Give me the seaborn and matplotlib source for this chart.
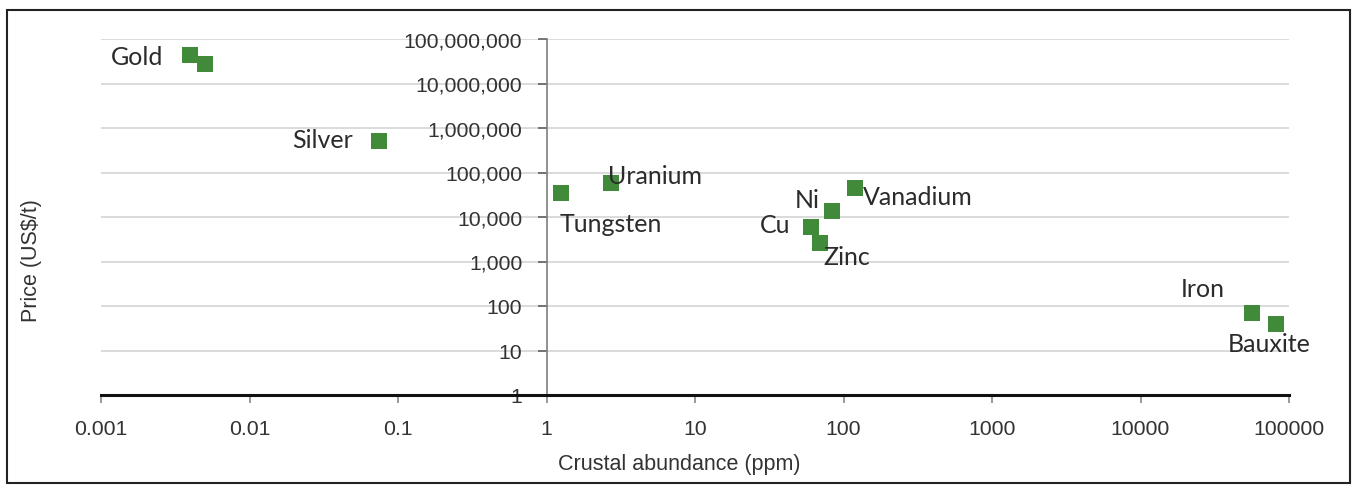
import matplotlib
matplotlib.use('Agg')
import matplotlib.pyplot as plt
import matplotlib.ticker as mticker
from matplotlib.patches import Rectangle
import pandas as pd
import seaborn as sns

# Values
metals = ['Gold', '', 'Silver', 'Tungsten', 'Uranium', 'Vanadium', 'Ni', 'Cu', 'Zinc', 'Iron', 'Bauxite']
abundance_ppm = [0.004, 0.005, 0.075, 1.25, 2.7, 120, 84, 60, 70, 56300, 82300]
price_usd_t = [43000000, 27000000, 510000, 34000, 58000, 46000, 13300, 6000, 2670, 70, 40]

x_ticks = [0.001, 0.01, 0.1, 1, 10, 100, 1000, 10000, 100000]
x_tick_labels = ['0.001', '0.01', '0.1', '1', '10', '100', '1000', '10000', '100000']
y_ticks = [1, 10, 100, 1000, 10000, 100000, 1000000, 10000000, 100000000]

# label placement: (dx px, dy px, ha)
label_pos = {
    'Gold': (-27, -9, 'right'),
    'Silver': (-27, -6, 'right'),
    'Tungsten': (-1, -38, 'left'),
    'Uranium': (-3, 0, 'left'),
    'Vanadium': (8, -16, 'left'),
    'Ni': (-13, 4, 'right'),
    'Cu': (-20, -5, 'right'),
    'Zinc': (3, -21, 'left'),
    'Iron': (-27, 17, 'right'),
    'Bauxite': (-49, -27, 'left'),
}

df = pd.DataFrame({'Metal': metals, 'Abundance': abundance_ppm, 'Price': price_usd_t})

sns.set_style('white')
plt.rcParams['font.family'] = ['Liberation Sans', 'DejaVu Sans']

fig = plt.figure(figsize=(13.56, 4.89), dpi=100)
ax = fig.add_axes([101 / 1356, 1 - 396 / 489, 1188 / 1356, 356 / 489])

sns.scatterplot(data=df, x='Abundance', y='Price', marker='s', s=117,
                color='#418a3a', linewidth=0, ax=ax, zorder=3, clip_on=False)

ax.set_xscale('log')
ax.set_yscale('log')
ax.set_xlim(0.001, 100000)
ax.set_ylim(1, 100000000)

ax.set_xticks(x_ticks)
ax.set_xticklabels(x_tick_labels)
ax.set_yticks(y_ticks)
ax.yaxis.set_major_formatter(mticker.FuncFormatter(lambda v, p: f'{int(round(v)):,}'))
ax.minorticks_off()

ax.grid(axis='y', color='#d4d4d4', linewidth=1.2)
ax.grid(axis='x', visible=False)

for s in ['top', 'right']:
    ax.spines[s].set_visible(False)
ax.spines['left'].set_position(('data', 1))
ax.spines['left'].set_color('#7f7f7f')
ax.spines['left'].set_linewidth(1.2)
ax.spines['bottom'].set_color('#111111')
ax.spines['bottom'].set_linewidth(2.2)
ax.spines['bottom'].set_zorder(4)

ax.tick_params(axis='x', direction='out', length=6, width=1.1, color='#7f7f7f',
               pad=11, labelsize=15.3, labelcolor='#333333', bottom=True)
ax.tick_params(axis='y', direction='out', length=6.5, width=1.1, color='#555555',
               pad=11, labelsize=15.3, labelcolor='#333333', left=True)

ax.set_xlabel('')
ax.set_ylabel('')

for name, xv, yv in zip(metals, abundance_ppm, price_usd_t):
    if name not in label_pos:
        continue
    dx, dy, ha = label_pos[name]
    ax.annotate(name, (xv, yv), xytext=(dx, dy), textcoords='offset pixels',
                ha=ha, va='baseline', fontsize=18, family=['Lato', 'DejaVu Sans'],
                color='#2b2b2b', zorder=5)

fig.text(31 / 1356, 1 - 261 / 489, 'Price (US$/t)', rotation=90, ha='center', va='center',
         fontsize=15.5, color='#333333')
fig.text(679 / 1356, 1 - 465 / 489, 'Crustal abundance (ppm)', ha='center', va='center',
         fontsize=15.5, color='#333333')

fig.patches.append(Rectangle((7 / 1356, 1 - 484 / 489), 1343 / 1356, 473 / 489,
                             transform=fig.transFigure, fill=False,
                             edgecolor='#222222', linewidth=1.5))

fig.savefig('out.png', dpi=100)
